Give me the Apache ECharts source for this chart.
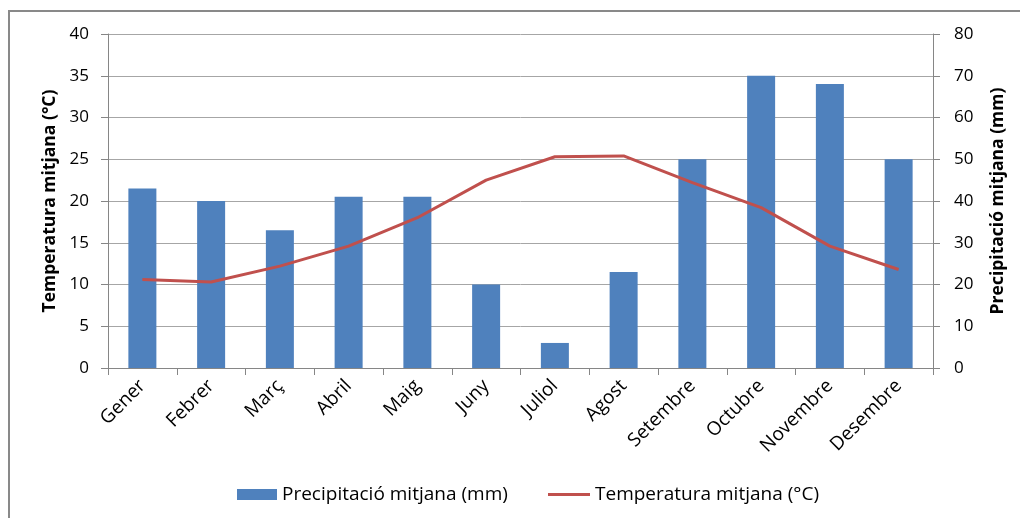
<!DOCTYPE html>
<html><head><meta charset="utf-8">
<script src="https://cdn.jsdelivr.net/npm/echarts@6/dist/echarts.min.js"></script>
<style>html,body{margin:0;padding:0;background:#fff}#c{width:1020px;height:518px}</style>
</head><body><div id="c"></div>
<script>
const months = ['Gener','Febrer','Març','Abril','Maig','Juny','Juliol','Agost','Setembre','Octubre','Novembre','Desembre'];
const precipitation = [43, 40, 33, 41, 41, 20, 6, 23, 50, 70, 68, 50];
const temperature = [10.6, 10.3, 12.2, 14.6, 18.0, 22.5, 25.3, 25.4, 22.2, 19.2, 14.6, 11.8];
const tempTicks = [0, 40, 5];
const precTicks = [0, 80, 10];

const FONT = '"Open Sans", sans-serif';
const chart = echarts.init(document.getElementById('c'));
chart.setOption({
  animation: false,
  textStyle: {fontFamily: FONT},
  graphic: [{type:'rect', shape:{x:9, y:11, width:1100, height:600}, style:{fill:'none', stroke:'#898989', lineWidth:2}, silent:true}],
  grid: {left:108, right:87, top:34, bottom:150, containLabel:false},
  legend: [{
    left: 232, top: 480, itemWidth: 40, itemHeight: 11,
    textStyle: {fontSize: 19, color:'#000', fontFamily: FONT},
    data: [{name:'Precipitació mitjana (mm)', icon:'rect'}]
  },{
    left: 543, top: 480, itemWidth: 42, itemHeight: 3,
    textStyle: {fontSize: 19, color:'#000', fontFamily: FONT},
    data: [{name:'Temperatura mitjana (°C)', icon:'rect'}]
  }],
  xAxis: {
    type:'category', data: months,
    axisLine:{lineStyle:{color:'#868686', width:1}},
    axisTick:{show:true, length:7, lineStyle:{color:'#868686'}},
    axisLabel:{rotate:45, fontSize:19, color:'#000', margin:15, interval:0}
  },
  yAxis: [
    {type:'value', min:tempTicks[0], max:tempTicks[1], interval:tempTicks[2], position:'left',
     name:'Temperatura mitjana (°C)', nameLocation:'middle', nameGap:48,
     nameTextStyle:{fontSize:17.5, fontWeight:'bold', color:'#000'},
     axisLine:{show:true, lineStyle:{color:'#868686'}},
     axisTick:{show:true, length:7, lineStyle:{color:'#868686'}},
     axisLabel:{fontSize:17, color:'#000', margin:19},
     splitLine:{show:true, lineStyle:{color:'#a6a6a6', width:1}}},
    {type:'value', min:precTicks[0], max:precTicks[1], interval:precTicks[2], position:'right',
     name:'Precipitació mitjana (mm)', nameLocation:'middle', nameGap:56, nameRotate:90,
     nameTextStyle:{fontSize:17.5, fontWeight:'bold', color:'#000'},
     axisLine:{show:true, lineStyle:{color:'#868686'}},
     axisTick:{show:true, length:7, lineStyle:{color:'#868686'}},
     axisLabel:{fontSize:17, color:'#000', margin:21},
     splitLine:{show:false}}
  ],
  series: [
    {name:'Precipitació mitjana (mm)', type:'bar', yAxisIndex:1, data: precipitation,
     barWidth:28, itemStyle:{color:'#4f81bd'}},
    {name:'Temperatura mitjana (°C)', type:'line', yAxisIndex:0, data: temperature,
     symbol:'none', lineStyle:{color:'#c0504d', width:3}, itemStyle:{color:'#c0504d'}}
  ]
});
</script></body></html>
